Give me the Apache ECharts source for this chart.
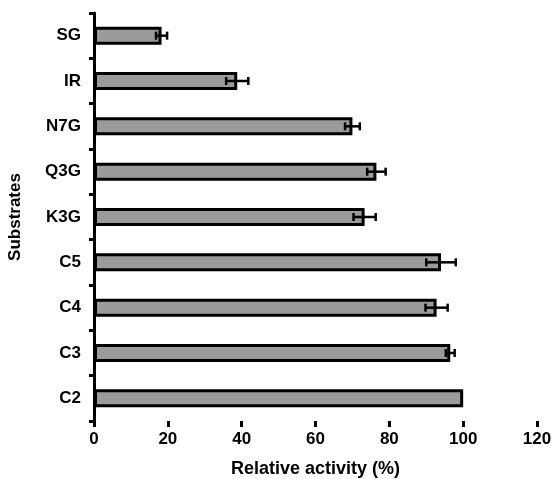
<!DOCTYPE html>
<html>
<head>
<meta charset="utf-8">
<script src="https://cdn.jsdelivr.net/npm/echarts@6/dist/echarts.min.js"></script>
<style>
  html, body { margin: 0; padding: 0; background: #fff; }
  #main { width: 556px; height: 479px; }
</style>
</head>
<body>
<div id="main"></div>
<script>
var substrates = ['SG', 'IR', 'N7G', 'Q3G', 'K3G', 'C5', 'C4', 'C3', 'C2'];
var activity = [18.3, 38.8, 70, 76.5, 73.3, 94, 92.8, 96.5, 100];
var errors = [1.5, 3, 2, 2.5, 3, 4, 3, 1.2, 0];
var xTicks = [0, 20, 40, 60, 80, 100, 120];

var errData = [];
for (var i = 0; i < substrates.length; i++) {
  if (errors[i] > 0) {
    errData.push([i, activity[i] - errors[i], activity[i] + errors[i]]);
  }
}

var myChart = echarts.init(document.getElementById('main'));
var font = 'Liberation Sans, Arial, sans-serif';

var option = {
  animation: false,
  grid: { left: 94, right: 19, top: 13, bottom: 58, containLabel: false, outerBoundsMode: 'none' },
  xAxis: {
    type: 'value',
    min: xTicks[0],
    max: xTicks[xTicks.length - 1],
    interval: 20,
    name: 'Relative activity (%)',
    nameLocation: 'middle',
    nameGap: 39,
    nameTextStyle: { color: '#000', fontSize: 18, fontWeight: 'bold', fontFamily: font },
    axisLine: { lineStyle: { color: '#000', width: 3 } },
    axisTick: { show: true, length: 6, lineStyle: { color: '#000', width: 3 } },
    axisLabel: { color: '#000', fontSize: 17, fontWeight: 'bold', fontFamily: font, margin: 10 },
    splitLine: { show: false }
  },
  yAxis: {
    type: 'category',
    inverse: true,
    data: substrates,
    name: 'Substrates',
    nameLocation: 'middle',
    nameGap: 70,
    nameTextStyle: { color: '#000', fontSize: 17, fontWeight: 'bold', fontFamily: font },
    axisLine: { lineStyle: { color: '#000', width: 3 } },
    axisTick: { show: true, length: 5, lineStyle: { color: '#000', width: 3 } },
    axisLabel: { color: '#000', fontSize: 17, fontWeight: 'bold', fontFamily: font, margin: 13 }
  },
  series: [
    {
      type: 'bar',
      data: activity,
      barWidth: 18,
      itemStyle: { color: '#9b9b9b', borderColor: '#000', borderWidth: 3 }
    },
    {
      type: 'custom',
      data: errData,
      encode: { x: [1, 2], y: 0 },
      z: 5,
      renderItem: function (params, api) {
        var idx = api.value(0);
        var lo = api.coord([api.value(1), idx]);
        var hi = api.coord([api.value(2), idx]);
        var h = 4;
        var st = { stroke: '#000', lineWidth: 2.5 };
        return {
          type: 'group',
          children: [
            { type: 'line', shape: { x1: lo[0], y1: lo[1], x2: hi[0], y2: hi[1] }, style: st },
            { type: 'line', shape: { x1: lo[0], y1: lo[1] - h, x2: lo[0], y2: lo[1] + h }, style: st },
            { type: 'line', shape: { x1: hi[0], y1: hi[1] - h, x2: hi[0], y2: hi[1] + h }, style: st }
          ]
        };
      }
    }
  ]
};

option && myChart.setOption(option);
</script>
</body>
</html>
